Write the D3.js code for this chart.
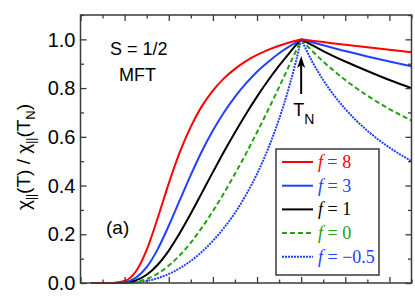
<!DOCTYPE html>
<html>
<head>
<meta charset="utf-8">
<script src="https://cdn.jsdelivr.net/npm/d3@7"></script>
<style>
  body { margin: 0; background: #fff; }
  text { font-family: "Liberation Sans", Arial, sans-serif; }
</style>
</head>
<body>
<script>
// chi_par(T)/chi_par(TN) vs T/TN, S = 1/2 MFT

// temperatures (T/TN) below and above TN
var tBelow = [0.05, 0.1, 0.15, 0.2, 0.25, 0.3, 0.35, 0.4, 0.45, 0.5, 0.55, 0.6, 0.65, 0.7, 0.75, 0.8, 0.85, 0.9, 0.95, 0.975, 1.0];
var tAbove = [1.0, 1.05, 1.1, 1.2, 1.3, 1.4, 1.5];

// series values
var f8Below  = [0, 0, 0.0004, 0.008, 0.046, 0.136, 0.267, 0.409, 0.537, 0.642, 0.726, 0.790, 0.840, 0.879, 0.911, 0.936, 0.957, 0.974, 0.988, 0.994, 1.0];
var f3Below  = [0, 0, 0.0001, 0.0036, 0.021, 0.065, 0.139, 0.235, 0.340, 0.444, 0.541, 0.626, 0.700, 0.764, 0.819, 0.867, 0.907, 0.943, 0.973, 0.987, 1.0];
var f1Below  = [0, 0, 0.0001, 0.0018, 0.0107, 0.0338, 0.0749, 0.133, 0.205, 0.285, 0.370, 0.455, 0.539, 0.618, 0.694, 0.765, 0.831, 0.892, 0.948, 0.975, 1.0];
var f0Below  = [0, 0, 0, 0.0009, 0.0054, 0.0172, 0.0389, 0.0715, 0.114, 0.166, 0.227, 0.295, 0.369, 0.448, 0.531, 0.619, 0.710, 0.804, 0.901, 0.950, 1.0];
var fm5Below = [0, 0, 0, 0.0005, 0.0027, 0.0087, 0.0198, 0.0371, 0.0605, 0.0907, 0.128, 0.173, 0.226, 0.288, 0.362, 0.448, 0.551, 0.673, 0.820, 0.905, 1.0];

var f8Above  = [1, 0.9945, 0.989, 0.978, 0.968, 0.957, 0.947];
var f3Above  = [1, 0.988, 0.976, 0.952, 0.930, 0.909, 0.889];
var f1Above  = [1, 0.976, 0.952, 0.909, 0.870, 0.833, 0.800];
var f0Above  = [1, 0.952, 0.909, 0.833, 0.769, 0.714, 0.667];
var fm5Above = [1, 0.909, 0.833, 0.714, 0.625, 0.556, 0.500];

var labels = ["8", "3", "1", "0", "\u22120.5"];
var yTicks = [0, 0.2, 0.4, 0.6, 0.8, 1.0];

// styles per series
var colors = ["#ff0000", "#2040ff", "#000000", "#22a010", "#2040ff"];
var dashes = [null, null, null, "5,3", "2,1"];

var w = 415;
var h = 299;

var xScale = d3.scaleLinear()
    .domain([0, 1.5])
    .range([80.5, 411.5]);

var yScale = d3.scaleLinear()
    .domain([0, 1.1])
    .range([283, 15]);

var svg = d3.select("body")
    .append("svg")
    .attr("width", w)
    .attr("height", h);

var line = d3.line()
    .curve(d3.curveMonotoneX)
    .x(function(d) { return xScale(d[0]); })
    .y(function(d) { return yScale(d[1]); });

var below = [f8Below, f3Below, f1Below, f0Below, fm5Below];
var above = [f8Above, f3Above, f1Above, f0Above, fm5Above];

// draw back to front so red ends up on top like the original
for (var i = below.length - 1; i >= 0; i--) {
    var pts1 = tBelow.map(function(t, k) { return [t, below[i][k]]; });
    var pts2 = tAbove.map(function(t, k) { return [t, above[i][k]]; });
    [pts1, pts2].forEach(function(pts) {
        svg.append("path")
            .attr("d", line(pts))
            .attr("fill", "none")
            .attr("stroke", colors[i])
            .attr("stroke-width", 2)
            .attr("stroke-dasharray", dashes[i]);
    });
}

// axes: ticks inward on all four sides
var axisColor = "#3a3a3a";
var x0 = xScale.range()[0], x1 = xScale.range()[1];
var y0 = yScale.range()[0], y1 = yScale.range()[1];

var yAxisL = d3.axisLeft(yScale).tickValues(d3.range(0, 1.11, 0.1)).tickSize(-6).tickFormat("");
var yAxisR = d3.axisRight(yScale).tickValues(d3.range(0, 1.11, 0.1)).tickSize(-6).tickFormat("");
var xAxisB = d3.axisBottom(xScale).tickValues(d3.range(0, 1.51, 0.1)).tickSize(-6).tickFormat("");
var xAxisT = d3.axisTop(xScale).tickValues(d3.range(0, 1.51, 0.1)).tickSize(-6).tickFormat("");

function styleAxis(g) {
    g.select(".domain").remove();
    g.selectAll(".tick line")
        .attr("stroke", axisColor)
        .attr("stroke-width", 1.3);
}

svg.append("g").attr("transform", "translate(" + x0 + ",0)").call(yAxisL).call(styleAxis);
svg.append("g").attr("transform", "translate(" + x1 + ",0)").call(yAxisR).call(styleAxis);
svg.append("g").attr("transform", "translate(0," + y0 + ")").call(xAxisB).call(styleAxis);
svg.append("g").attr("transform", "translate(0," + y1 + ")").call(xAxisT).call(styleAxis);

// minor ticks shorter
svg.selectAll(".tick line")
    .filter(function(d) { return Math.round(d * 10) % 2 == 1; })
    .each(function() {
        var l = d3.select(this);
        if (l.attr("x2") != null && +l.attr("x2") != 0) l.attr("x2", +l.attr("x2") > 0 ? 3.5 : -3.5);
        if (l.attr("y2") != null && +l.attr("y2") != 0) l.attr("y2", +l.attr("y2") > 0 ? 3.5 : -3.5);
    });

svg.append("rect")
    .attr("x", x0)
    .attr("y", y1)
    .attr("width", x1 - x0)
    .attr("height", y0 - y1)
    .attr("fill", "none")
    .attr("stroke", axisColor)
    .attr("stroke-width", 1.5);

// y tick labels
svg.selectAll(".ylab")
    .data(yTicks)
    .enter().append("text")
    .attr("class", "ylab")
    .attr("x", x0 - 5)
    .attr("y", function(d) { return yScale(d); })
    .attr("dy", "0.36em")
    .attr("text-anchor", "end")
    .style("font-size", "20px")
    .text(function(d) { return d.toFixed(1); });

// y axis title
var title = svg.append("text")
    .attr("transform", "translate(30,157) rotate(-90)")
    .attr("text-anchor", "middle")
    .style("font-size", "19px");
title.append("tspan").text("\u03c7");
title.append("tspan").attr("dy", 5).style("font-size", "12px").text("||");
title.append("tspan").attr("dy", -5).text("(T) / \u03c7");
title.append("tspan").attr("dy", 5).style("font-size", "12px").text("||");
title.append("tspan").attr("dy", -5).text("(T");
title.append("tspan").attr("dy", 5).style("font-size", "13px").text("N");
title.append("tspan").attr("dy", -5).text(")");

// annotations
svg.append("text").attr("x", 110).attr("y", 55).style("font-size", "18px").text("S = 1/2");
svg.append("text").attr("x", 119).attr("y", 81).style("font-size", "18px").text("MFT");
svg.append("text").attr("x", 106).attr("y", 234).style("font-size", "19px").text("(a)");

// T_N arrow
var xN = xScale(1.0);
svg.append("line")
    .attr("x1", xN).attr("x2", xN)
    .attr("y1", 64).attr("y2", 94)
    .attr("stroke", "#000")
    .attr("stroke-width", 2);
svg.append("path")
    .attr("d", "M" + xN + ",56 L" + (xN - 4) + ",68 L" + xN + ",65 L" + (xN + 4) + ",68 Z")
    .attr("fill", "#000");
var tn = svg.append("text").attr("x", xN - 8).attr("y", 116).style("font-size", "18px");
tn.append("tspan").text("T");
tn.append("tspan").attr("dy", 8).style("font-size", "14px").text("N");

// legend
var lg = svg.append("g");
lg.append("rect")
    .attr("x", 276).attr("y", 149)
    .attr("width", 103).attr("height", 126)
    .attr("fill", "#fff")
    .attr("stroke", axisColor)
    .attr("stroke-width", 1.5);

labels.forEach(function(lab, i) {
    var yy = 162 + i * 23.7;
    lg.append("line")
        .attr("x1", 282).attr("x2", 313)
        .attr("y1", yy).attr("y2", yy)
        .attr("stroke", colors[i])
        .attr("stroke-width", 2)
        .attr("stroke-dasharray", dashes[i]);
    var t = lg.append("text")
        .attr("x", 318).attr("y", yy + 6)
        .attr("fill", colors[i])
        .style("font-family", "'Liberation Serif', 'Times New Roman', serif")
        .style("font-size", "18px");
    t.append("tspan").style("font-style", "italic").text("f");
    t.append("tspan").text(" = " + lab);
});
</script>
</body>
</html>
